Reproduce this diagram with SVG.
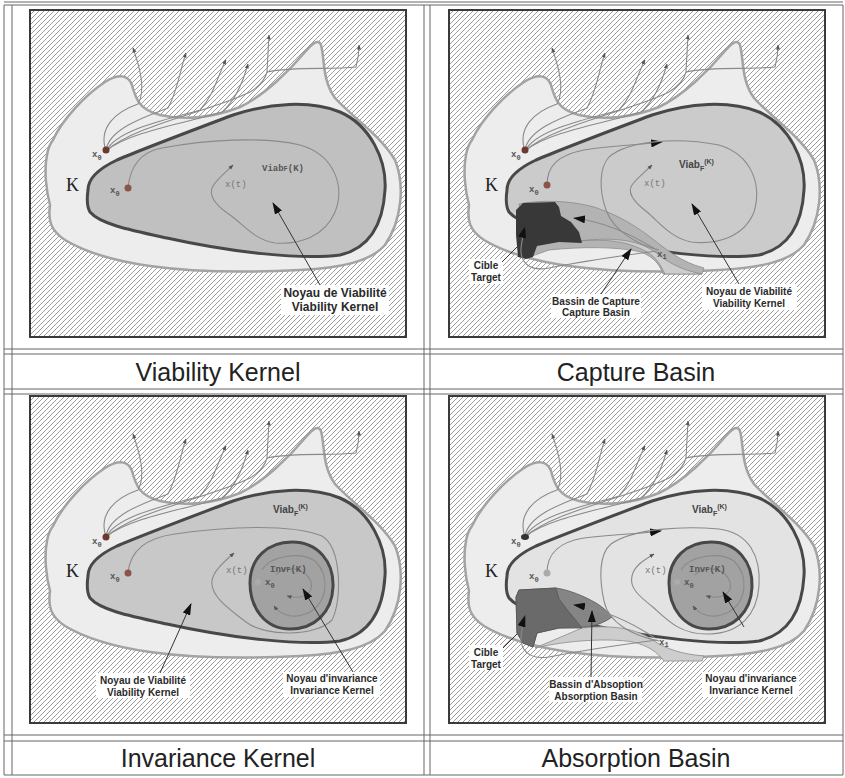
<svg xmlns="http://www.w3.org/2000/svg" xmlns:xlink="http://www.w3.org/1999/xlink" width="845" height="778" viewBox="0 0 845 778">
<defs>
<style>
.frame{fill:url(#hatch);stroke:#3a3a3a;stroke-width:2}
.k{fill:#ededed;stroke:#a3a3a3;stroke-width:2.5}
.vk{stroke:#484848;stroke-width:3}
.traj{fill:none;stroke:#8a8a8a;stroke-width:1.1}
.ptr{fill:none;stroke:#333;stroke-width:1}
.box{fill:#fff}
.lbl{font-family:"Liberation Sans",Arial,sans-serif;font-weight:bold;font-size:10px;text-anchor:middle;fill:#2a2a2a}
.lbl1{font-family:"Liberation Sans",Arial,sans-serif;font-weight:bold;font-size:12px;text-anchor:middle;fill:#2a2a2a}
.mono{font-family:"Liberation Mono","DejaVu Sans Mono",monospace;font-weight:bold;font-size:9px;fill:#555}
.xt{font-family:"Liberation Mono","DejaVu Sans Mono",monospace;font-size:9px;fill:#777}
.vlab{font-family:"Liberation Sans",Arial,sans-serif;font-weight:bold;font-size:10px;fill:#444}
.kl{font-family:"Liberation Serif","Times New Roman",serif;font-size:18px;fill:#222}
.cap{font-family:"Liberation Sans",Arial,sans-serif;font-size:25px;text-anchor:middle;fill:#222}
.tbl{stroke:#666;stroke-width:1;fill:none}
.dk{fill:#6a3a30}
.md{fill:#8a5448}
.lt{fill:#ababab}
.inv{fill:#a2a2a2;stroke:#484848;stroke-width:3}
</style>
<pattern id="hatch" patternUnits="userSpaceOnUse" width="5" height="5">
<rect width="5" height="5" fill="#fff"/>
<path d="M-1,6 L6,-1 M-1,1 L1,-1 M4,6 L6,4" stroke="#9c9c9c" stroke-width="1"/>
</pattern>
<marker id="sa" viewBox="0 0 10 10" refX="9" refY="5" markerWidth="5" markerHeight="5" orient="auto" markerUnits="userSpaceOnUse">
<path d="M0,1 L10,5 L0,9 z" fill="#555"/>
</marker>
<marker id="ba" viewBox="0 0 12 8" refX="11" refY="4" markerWidth="12" markerHeight="8" orient="auto" markerUnits="userSpaceOnUse">
<path d="M0,0 L12,4 L0,8 z" fill="#111"/>
</marker>
<path id="kshape" d="M53,140 C62,120 85,95 105,82 C118,74 128,74 132,85 C136,100 140,110 160,115 C185,121 215,117 240,107 C265,95 290,70 305,52 C312,44 318,38 321,45 C325,60 322,80 335,98 C350,115 380,135 395,160 C405,185 402,220 385,245 C370,262 340,268 300,270 C260,272 200,273 150,266 C115,261 85,252 65,240 C50,230 48,220 50,205 C46,190 44,170 47,155 C48,148 50,144 53,140 Z"/>
<path id="kernel" d="M88,190 C88,178 100,168 117,160 C140,150 180,135 233,115 C270,103 310,100 340,112 C370,125 387,160 385,190 C383,225 370,248 340,255 C300,260 230,252 167,238 C130,230 100,224 90,212 C86,205 87,197 88,190 Z"/>
<path id="invk" d="M250,197 C250,172 268,156 292,156 C318,156 334,176 333,201 C332,226 315,243 290,243 C265,243 250,222 250,197 Z"/>
<g id="fan" class="traj">
<path d="M106,151 C98,128 115,112 138,104 C146,90 140,68 133,48" marker-end="url(#sa)"/>
<path d="M106,151 C108,128 150,115 168,108 C178,90 180,70 186,53" marker-end="url(#sa)"/>
<path d="M106,151 C118,128 175,118 200,110 C214,95 218,75 226,60" marker-end="url(#sa)"/>
<path d="M106,151 C128,132 190,122 222,112 C236,100 243,82 248,64" marker-end="url(#sa)"/>
<path d="M106,151 C135,125 215,110 250,92 C260,86 265,80 267,72 L269,35" marker-end="url(#sa)"/>
<path d="M267,72 C295,66 330,70 356,67 C358,60 359,52 359,45" marker-end="url(#sa)"/>
</g>
</defs>

<g id="table">
<path class="tbl" d="M4,2 H843 M4,5 H843 M4,349 H843 M4,354 H843 M4,389 H843 M4,394 H843 M4,735 H843 M4,741 H843 M4,775 H843"/>
<path class="tbl" d="M4,5 V775 M12,5 V775 M424,5 V775 M430,5 V775 M843,5 V775"/>
</g>

<g id="panel-viability">
<rect x="30" y="10" width="376" height="327" class="frame"/>
<use xlink:href="#kshape" class="k"/>
<use xlink:href="#kernel" class="vk" fill="#c0c0c0"/>
<use xlink:href="#fan"/>
<path class="traj" d="M128,188 C130,168 140,152 162,148 C205,140 262,136 300,145 C335,155 345,187 335,212 C325,236 300,245 275,243 C255,240 244,225 230,215 C215,205 208,195 213,186 C218,178 226,172 233,165" marker-end="url(#sa)"/>
<circle cx="106" cy="150" r="3.5" class="dk"/>
<circle cx="128" cy="188" r="3.5" class="md"/>
<text class="mono" x="92" y="157">x<tspan font-size="7" dy="3">0</tspan></text>
<text class="mono" x="110" y="193">x<tspan font-size="7" dy="3">0</tspan></text>
<text class="kl" x="66" y="191">K</text>
<text class="xt" x="225" y="187">x(t)</text>
<text class="mono" x="262" y="171">Viab<tspan font-size="7">F</tspan>(K)</text>
<rect class="box" x="281" y="285" width="108" height="30"/>
<text class="lbl1" x="335" y="297">Noyau de Viabilité</text>
<text class="lbl1" x="335" y="311">Viability Kernel</text>
</g>

<g id="panel-capture" transform="translate(419,0)">
<rect x="30" y="10" width="376" height="327" class="frame"/>
<use xlink:href="#kshape" class="k"/>
<use xlink:href="#kernel" class="vk" fill="#cbcbcb"/>
<path d="M100,204 C120,200 150,200 175,207 C200,215 220,228 235,240 C248,250 262,262 285,268 L283,274 L244,274 C240,262 232,256 222,252 C195,246 160,247 130,250 L113,256 Z" fill="#b3b3b3" stroke="#8a8a8a" stroke-width="0.8"/>
<path d="M160,241 C195,238 214,244 228,252 C238,258 242,266 246,274 L283,274 C262,270 248,262 236,252 C222,242 200,236 160,241 Z" fill="#cdcdcd" stroke="#8a8a8a" stroke-width="0.8"/>
<path d="M97,210 L104,203 L136,202 L140,207 L142,216 L152,222 L160,232 L163,243 L140,242 L118,246 L114,257 L107,259 L99,257 L97,235 Z" fill="#383838"/>
<use xlink:href="#fan"/>
<path class="traj" d="M128,185 C128,165 140,155 165,150 C195,145 220,145 243,142" marker-end="url(#ba)"/>
<path class="traj" d="M240,250 C220,245 195,232 187,210 C180,190 180,168 190,157 C210,140 260,137 300,145 C333,155 343,185 335,212 C325,237 298,245 272,242 C252,238 240,222 228,212 C215,202 208,192 213,185 C218,178 226,172 233,165" marker-end="url(#sa)"/>
<path class="traj" d="M236,249 C215,236 188,222 155,218" marker-end="url(#ba)"/>
<path class="traj" d="M238,251 C200,256 160,262 130,268 C110,272 101,262 102,248 C103,240 104,234 106,227" marker-end="url(#ba)"/>
<circle cx="106" cy="150" r="3.5" class="dk"/>
<circle cx="128" cy="185" r="3.5" class="md"/>
<text class="mono" x="92" y="157">x<tspan font-size="7" dy="3">0</tspan></text>
<text class="mono" x="110" y="192">x<tspan font-size="7" dy="3">0</tspan></text>
<text class="mono" x="238" y="257">x<tspan font-size="7" dy="2">1</tspan></text>
<text class="kl" x="66" y="191">K</text>
<text class="xt" x="225" y="186">x(t)</text>
<text class="vlab" x="260" y="168">Viab<tspan font-size="7" dy="3">F</tspan><tspan font-size="7" dy="-7">(K)</tspan></text>
<rect class="box" x="50" y="259" width="34" height="25"/>
<text class="lbl" x="67" y="269">Cible</text>
<text class="lbl" x="67" y="281">Target</text>
<rect class="box" x="132" y="294" width="90" height="24"/>
<text class="lbl" x="177" y="305">Bassin de Capture</text>
<text class="lbl" x="177" y="316">Capture Basin</text>
<rect class="box" x="283" y="284" width="95" height="26"/>
<text class="lbl" x="330" y="295">Noyau de Viabilité</text>
<text class="lbl" x="330" y="307">Viability Kernel</text>
</g>

<g id="panel-invariance" transform="translate(0,386)">
<rect x="30" y="10" width="376" height="327" class="frame"/>
<use xlink:href="#kshape" class="k"/>
<use xlink:href="#kernel" class="vk" fill="#c8c8c8"/>
<use xlink:href="#invk" class="inv"/>
<use xlink:href="#fan"/>
<path class="traj" d="M128,187 C130,165 145,152 175,148 C230,140 292,138 322,150 C342,162 342,215 332,234 C316,251 265,251 246,236 C229,223 210,210 212,195 C213,185 225,175 234,167" marker-end="url(#sa)"/>
<path class="traj" d="M262,184 C270,170 300,165 315,175 C330,190 328,215 310,226 C296,233 282,231 274,220" marker-end="url(#sa)"/>
<path class="traj" d="M276,189 C286,178 306,182 311,196 C314,208 302,214 287,210" marker-end="url(#sa)"/>
<circle cx="106" cy="151" r="3.5" class="dk"/>
<circle cx="128" cy="187" r="3.5" class="md"/>
<circle cx="258" cy="196" r="3" class="lt"/>
<text class="mono" x="92" y="158">x<tspan font-size="7" dy="3">0</tspan></text>
<text class="mono" x="110" y="193">x<tspan font-size="7" dy="3">0</tspan></text>
<text class="mono" x="265" y="199">x<tspan font-size="7" dy="3">0</tspan></text>
<text class="kl" x="66" y="191">K</text>
<text class="xt" x="226" y="187">x(t)</text>
<text class="mono" x="270" y="186">Inv<tspan font-size="7">F</tspan>(K)</text>
<text class="vlab" x="273" y="127">Viab<tspan font-size="7" dy="3">F</tspan><tspan font-size="7" dy="-7">(K)</tspan></text>
<rect class="box" x="96" y="287" width="94" height="25"/>
<text class="lbl" x="143" y="298">Noyau de Viabilité</text>
<text class="lbl" x="143" y="310">Viability Kernel</text>
<rect class="box" x="283" y="286" width="97" height="25"/>
<text class="lbl" x="332" y="296">Noyau d'invariance</text>
<text class="lbl" x="332" y="308">Invariance Kernel</text>
</g>

<g id="panel-absorption" transform="translate(419,386)">
<rect x="30" y="10" width="376" height="327" class="frame"/>
<use xlink:href="#kshape" class="k"/>
<use xlink:href="#kernel" class="vk" fill="#e3e3e3"/>
<path d="M163,242 C200,238 222,245 235,255 C248,263 262,268 285,270 L283,275 L245,275 C238,266 230,260 214,256 C190,252 150,254 116,262 Z" fill="#cdcdcd" stroke="#8a8a8a" stroke-width="0.8"/>
<path d="M97,211 L100,204 L137,202 C150,204 165,210 177,217 C185,222 190,227 193,231 C185,237 175,240 167,241 L140,242 L118,247 L114,261 L104,257 L98,247 Z" fill="#858585" stroke="#555" stroke-width="0.8"/>
<path d="M97,211 L100,204 L137,202 L140,213 L150,226 L163,242 L140,242 L118,247 L114,261 L104,257 L98,247 Z" fill="#6a6a6a" stroke="#555" stroke-width="0.8"/>
<use xlink:href="#invk" class="inv"/>
<use xlink:href="#fan"/>
<path class="traj" d="M128,187 C128,167 140,156 165,152 C195,148 220,148 242,145" marker-end="url(#ba)"/>
<path class="traj" d="M240,255 C215,250 190,238 185,215 C180,192 180,168 192,158 C215,142 265,140 300,143 C330,147 342,170 340,200 C338,228 322,247 290,248 C262,249 248,234 235,222 C220,210 210,202 213,190 C215,180 225,174 235,168" marker-end="url(#sa)"/>
<path class="traj" d="M236,252 C215,238 188,224 155,219" marker-end="url(#ba)"/>
<path class="traj" d="M238,254 C200,259 160,265 130,271 C110,274 101,264 102,250 C103,242 104,236 106,230" marker-end="url(#ba)"/>
<path class="traj" d="M262,184 C270,170 300,165 315,175 C330,190 328,215 310,226 C296,233 282,231 274,220" marker-end="url(#sa)"/>
<path class="traj" d="M276,189 C286,178 306,182 311,196 C314,208 302,214 287,210" marker-end="url(#sa)"/>
<ellipse cx="106" cy="151" rx="4" ry="3" fill="#333"/>
<circle cx="128" cy="187" r="3.5" class="lt"/>
<circle cx="258" cy="196" r="3" class="lt"/>
<text class="mono" x="92" y="158">x<tspan font-size="7" dy="3">0</tspan></text>
<text class="mono" x="110" y="193">x<tspan font-size="7" dy="3">0</tspan></text>
<text class="mono" x="265" y="199">x<tspan font-size="7" dy="3">0</tspan></text>
<text class="mono" x="240" y="259">x<tspan font-size="7" dy="2">1</tspan></text>
<text class="kl" x="66" y="191">K</text>
<text class="xt" x="226" y="187">x(t)</text>
<text class="mono" x="270" y="186">Inv<tspan font-size="7">F</tspan>(K)</text>
<text class="vlab" x="273" y="127">Viab<tspan font-size="7" dy="3">F</tspan><tspan font-size="7" dy="-7">(K)</tspan></text>
<rect class="box" x="50" y="259" width="34" height="25"/>
<text class="lbl" x="67" y="270">Cible</text>
<text class="lbl" x="67" y="282">Target</text>
<rect class="box" x="130" y="291" width="93" height="25"/>
<text class="lbl" x="177" y="302">Bassin d'Absoption</text>
<text class="lbl" x="177" y="314">Absorption Basin</text>
<rect class="box" x="283" y="286" width="97" height="25"/>
<text class="lbl" x="332" y="296">Noyau d'invariance</text>
<text class="lbl" x="332" y="308">Invariance Kernel</text>
</g>

<g id="connectors">
<g transform="translate(0,0)">
<path class="ptr" d="M320,285 L273,203" marker-end="url(#ba)"/>
</g>
<g transform="translate(419,0)">
<path class="ptr" d="M320,284 L273,204" marker-end="url(#ba)"/>
<path class="ptr" d="M182,294 L212,249" marker-end="url(#ba)"/>
<path class="ptr" d="M83,262 L98,247"/>
</g>
<g transform="translate(0,386)">
<path class="ptr" d="M160,287 L191,218" marker-end="url(#ba)"/>
<path class="ptr" d="M353,286 L303,203" marker-end="url(#ba)"/>
</g>
<g transform="translate(419,386)">
<path class="ptr" d="M172,291 L173,225" marker-end="url(#ba)"/>
<path class="ptr" d="M325,241 L304,206" marker-end="url(#ba)"/>
<path class="ptr" d="M84,262 L98,248"/>
</g>
</g>

<g id="caption-viability"><text class="cap" x="218" y="381">Viability Kernel</text></g>
<g id="caption-capture"><text class="cap" x="636" y="381">Capture Basin</text></g>
<g id="caption-invariance"><text class="cap" x="218" y="767">Invariance Kernel</text></g>
<g id="caption-absorption"><text class="cap" x="636" y="767">Absorption Basin</text></g>
</svg>
